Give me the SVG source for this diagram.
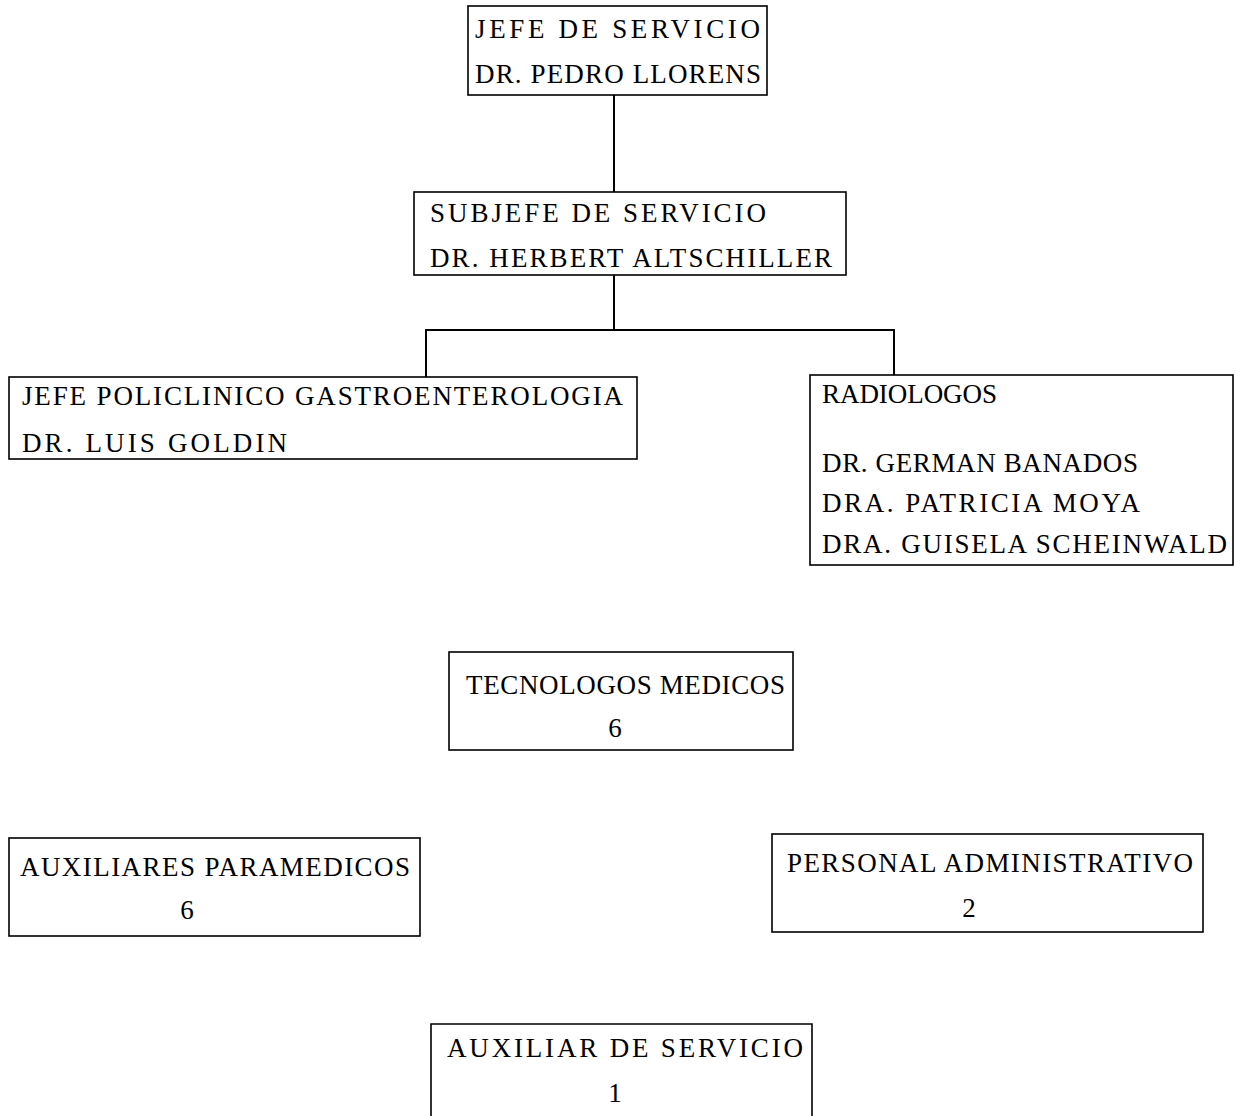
<svg xmlns="http://www.w3.org/2000/svg" width="1235" height="1116" viewBox="0 0 1235 1116">
<style>
.box{fill:none;stroke:#000;stroke-width:1.6}
.ln{fill:none;stroke:#000;stroke-width:2}
text{font-family:"Liberation Serif","Times New Roman",serif;font-size:27px;fill:#000}
.c{text-anchor:middle}
</style>
<rect width="1235" height="1116" fill="#fff"/>
<g id="connectors">
<path class="ln" d="M614 95V192"/>
<path class="ln" d="M614 275V330M426 377V330H894V375"/>
</g>
<g id="jefe">
<rect class="box" x="468" y="6" width="299" height="89"/>
<text x="475" y="38" textLength="285" lengthAdjust="spacing">JEFE DE SERVICIO</text>
<text x="475" y="83" textLength="286" lengthAdjust="spacing">DR. PEDRO LLORENS</text>
</g>
<g id="subjefe">
<rect class="box" x="414" y="192" width="432" height="83"/>
<text x="430" y="222" textLength="336" lengthAdjust="spacing">SUBJEFE DE SERVICIO</text>
<text x="430" y="267" textLength="402" lengthAdjust="spacing">DR. HERBERT ALTSCHILLER</text>
</g>
<g id="policlinico">
<rect class="box" x="9" y="377" width="628" height="82"/>
<text x="22" y="405" textLength="601" lengthAdjust="spacing">JEFE POLICLINICO GASTROENTEROLOGIA</text>
<text x="22" y="452" textLength="265" lengthAdjust="spacing">DR. LUIS GOLDIN</text>
</g>
<g id="radiologos">
<rect class="box" x="810" y="375" width="423" height="190"/>
<text x="822" y="403" textLength="175" lengthAdjust="spacing">RADIOLOGOS</text>
<text x="822" y="472" textLength="316" lengthAdjust="spacing">DR. GERMAN BANADOS</text>
<text x="822" y="512" textLength="318" lengthAdjust="spacing">DRA. PATRICIA MOYA</text>
<text x="822" y="553" textLength="405" lengthAdjust="spacing">DRA. GUISELA SCHEINWALD</text>
</g>
<g id="tecnologos">
<rect class="box" x="449" y="652" width="344" height="98"/>
<text x="466" y="694" textLength="319" lengthAdjust="spacing">TECNOLOGOS MEDICOS</text>
<text class="c" x="615" y="737">6</text>
</g>
<g id="auxiliares">
<rect class="box" x="9" y="838" width="411" height="98"/>
<text x="20" y="876" textLength="390" lengthAdjust="spacing">AUXILIARES PARAMEDICOS</text>
<text class="c" x="187" y="919">6</text>
</g>
<g id="personal">
<rect class="box" x="772" y="834" width="431" height="98"/>
<text x="787" y="872" textLength="406" lengthAdjust="spacing">PERSONAL ADMINISTRATIVO</text>
<text class="c" x="969" y="917">2</text>
</g>
<g id="auxiliar-servicio">
<path class="box" d="M431 1118V1024H812V1118"/>
<text x="447" y="1057" textLength="356" lengthAdjust="spacing">AUXILIAR DE SERVICIO</text>
<text class="c" x="615" y="1102">1</text>
</g>
</svg>
